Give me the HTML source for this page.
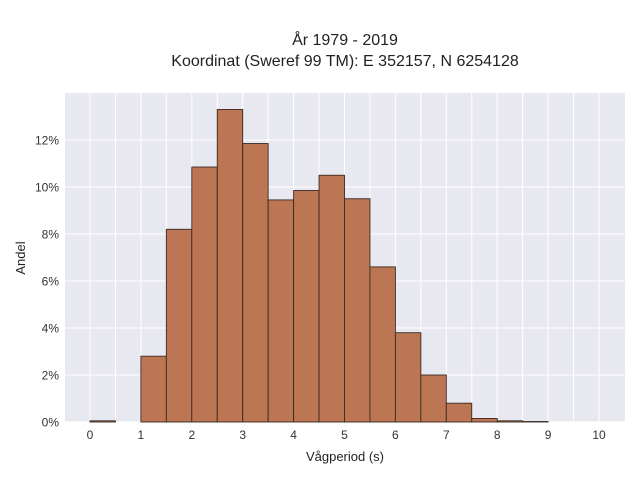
<!DOCTYPE html>
<html><head><meta charset="utf-8"><style>
body{margin:0;background:#fff}
svg{font-family:"Liberation Sans",sans-serif}
</style></head><body>
<svg id="c" width="640" height="480">
<text x="345" y="45" text-anchor="middle" font-size="16" fill="#222">År 1979 - 2019</text>
<text x="345" y="66" text-anchor="middle" font-size="16" fill="#222">Koordinat (Sweref 99 TM): E 352157, N 6254128</text>
<rect x="65" y="93" width="560" height="329" fill="#e8e8f0"/>
<g id="grid"></g><g id="bars"></g><g id="ticks"></g>
<text x="345" y="461" text-anchor="middle" font-size="13" fill="#222">Vågperiod (s)</text>
<text x="25" y="258" text-anchor="middle" font-size="13" fill="#222" transform="rotate(-90 25 258)">Andel</text>
</svg>
<script>
const binStarts=[0,0.5,1,1.5,2,2.5,3,3.5,4,4.5,5,5.5,6,6.5,7,7.5,8,8.5];
const shares=[0.05,0,2.8,8.2,10.85,13.3,11.85,9.45,9.85,10.5,9.5,6.6,3.8,2.0,0.8,0.15,0.05,0.02];
const xTicks=[0,1,2,3,4,5,6,7,8,9,10];
const yTicks=[0,2,4,6,8,10,12];
const binWidth=0.5;
const NS="http://www.w3.org/2000/svg";
const X=v=>90+v*50.9, Y=v=>422-v*23.5;
const grid=document.getElementById('grid'),bars=document.getElementById('bars'),ticks=document.getElementById('ticks');
function mk(tag,attrs,parent){const e=document.createElementNS(NS,tag);for(const k in attrs)e.setAttribute(k,attrs[k]);parent.appendChild(e);return e;}
for(let v=0;v<=10;v+=0.5){const l=mk('line',{x1:X(v),x2:X(v),y1:93,y2:422,stroke:'#fff','stroke-width':1},grid);

}
yTicks.forEach(t=>{const l=mk('line',{x1:65,x2:625,y1:Y(t),y2:Y(t),stroke:'#fff','stroke-width':1},grid);


const tx=mk('text',{x:59,y:Y(t)+4.5,'text-anchor':'end','font-size':12,fill:'#333'},ticks);tx.textContent=t+'%';

});
xTicks.forEach(t=>{const tx=mk('text',{x:X(t),y:439,'text-anchor':'middle','font-size':12,fill:'#333'},ticks);tx.textContent=t;

});
binStarts.forEach((b,i)=>{if(shares[i]<=0)return;const h=shares[i]*23.5;
const r=mk('rect',{x:X(b),y:Y(shares[i]),width:binWidth*50.9,height:h,fill:'#bc7653',stroke:'#3a2a22','stroke-width':0.9},bars);

});
</script>
</body></html>
